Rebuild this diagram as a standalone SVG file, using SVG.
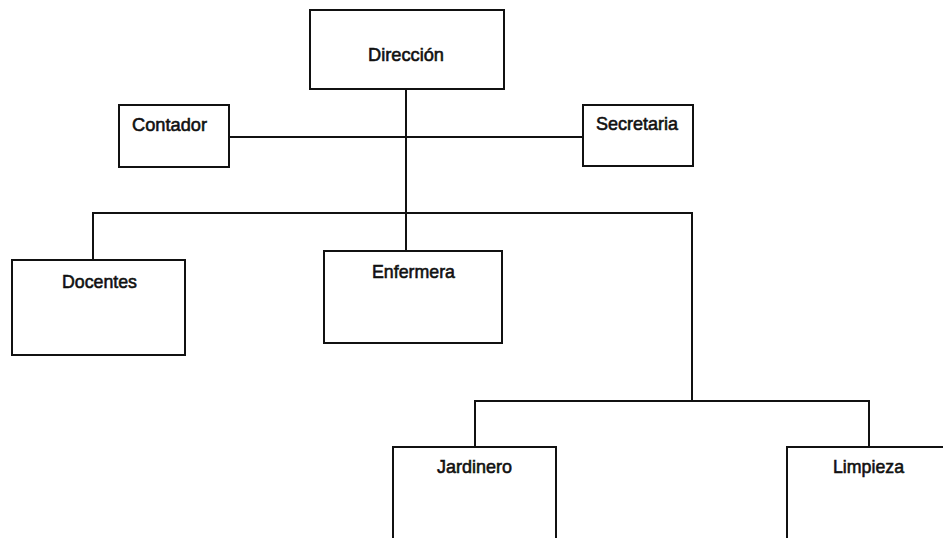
<svg xmlns="http://www.w3.org/2000/svg" width="943" height="538" viewBox="0 0 943 538">
<style>
.box{fill:#fff;stroke:#111;stroke-width:2}
.ln{fill:none;stroke:#111;stroke-width:2}
.t{font-family:"Liberation Sans",Arial,sans-serif;font-size:19px;fill:#111;stroke:#111;stroke-width:0.6}
</style>
<rect width="943" height="538" fill="#fff"/>
<g id="connectors">
<path class="ln" d="M406 89V213"/>
<path class="ln" d="M229 137H583"/>
<path class="ln" d="M93 260V213H692V401"/>
<path class="ln" d="M406 213V251"/>
<path class="ln" d="M475 447V401H869V447"/>
</g>
<g id="direccion"><rect class="box" x="310" y="10" width="194" height="79"/><text class="t" x="368" y="61" textLength="76" lengthAdjust="spacingAndGlyphs">Dirección</text></g>
<g id="contador"><rect class="box" x="119" y="105" width="110" height="62"/><text class="t" x="132" y="131" textLength="75" lengthAdjust="spacingAndGlyphs">Contador</text></g>
<g id="secretaria"><rect class="box" x="583" y="105" width="110" height="61"/><text class="t" x="596" y="130" textLength="82" lengthAdjust="spacingAndGlyphs">Secretaria</text></g>
<g id="docentes"><rect class="box" x="12" y="260" width="173" height="95"/><text class="t" x="62" y="288" textLength="75" lengthAdjust="spacingAndGlyphs">Docentes</text></g>
<g id="enfermera"><rect class="box" x="324" y="251" width="178" height="92"/><text class="t" x="372" y="278" textLength="83" lengthAdjust="spacingAndGlyphs">Enfermera</text></g>
<g id="jardinero"><path class="box" d="M393 540V447H556V540"/><text class="t" x="437" y="473" textLength="75" lengthAdjust="spacingAndGlyphs">Jardinero</text></g>
<g id="limpieza"><path class="box" d="M787 540V447H945"/><text class="t" x="833" y="473" textLength="71" lengthAdjust="spacingAndGlyphs">Limpieza</text></g>
</svg>
